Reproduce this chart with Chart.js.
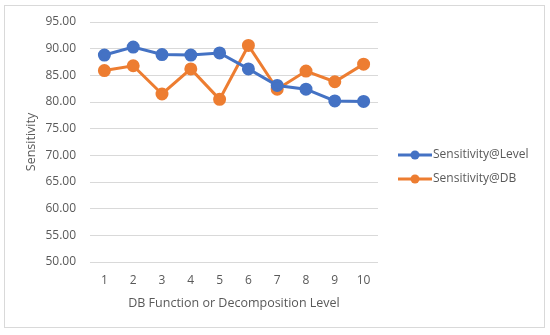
<!DOCTYPE html>
<html lang="en">
<head>
    <meta charset="UTF-8">
    <title>Sensitivity</title>
    <script src="https://cdn.jsdelivr.net/npm/chart.js@4.4.0/dist/chart.umd.min.js"></script>
    <style>
        body { margin: 0; background: #fff; }
    </style>
</head>
<body>
    <canvas id="chart" width="550" height="335"></canvas>

    <script>
        // datos
        const levels = ['1', '2', '3', '4', '5', '6', '7', '8', '9', '10'];
        const sensLevel = [88.8, 90.3, 88.9, 88.8, 89.2, 86.2, 83.1, 82.4, 80.2, 80.1];
        const sensDB = [85.9, 86.8, 81.5, 86.2, 80.5, 90.6, 82.4, 85.8, 83.8, 87.1];
        const yTicks = [50, 55, 60, 65, 70, 75, 80, 85, 90, 95];

        const textColor = '#595959';
        const fontFamily = '"Open Sans", "DejaVu Sans", sans-serif';

        // borde y fondo del grafico
        const frame = {
            id: 'frame',
            beforeDraw(chart) {
                const c = chart.ctx;
                c.save();
                c.fillStyle = '#fff';
                c.fillRect(0, 0, chart.width, chart.height);
                c.strokeStyle = '#d9d9d9';
                c.lineWidth = 1;
                c.strokeRect(4.5, 5.5, 540, 322);
                c.restore();
            }
        };

        // leyenda estilo excel: linea con punto
        const sideLegend = {
            id: 'sideLegend',
            afterDraw(chart) {
                const c = chart.ctx;
                const rows = [155, 179];
                c.save();
                chart.data.datasets.forEach((ds, i) => {
                    const y = rows[i];
                    c.strokeStyle = ds.borderColor;
                    c.lineWidth = 3;
                    c.beginPath();
                    c.moveTo(398, y);
                    c.lineTo(432, y);
                    c.stroke();
                    c.fillStyle = ds.borderColor;
                    c.beginPath();
                    c.arc(415, y, 4.5, 0, Math.PI * 2);
                    c.fill();
                    c.fillStyle = textColor;
                    c.font = '12px ' + fontFamily;
                    c.textBaseline = 'middle';
                    c.textAlign = 'left';
                    c.fillText(ds.label, 433, y);
                });
                c.restore();
            }
        };

        const ctx = document.getElementById('chart').getContext('2d');
        const chart = new Chart(ctx, {
            type: 'line',
            data: {
                labels: levels,
                datasets: [{
                    label: 'Sensitivity@Level',
                    data: sensLevel,
                    borderColor: '#4472C4',
                    backgroundColor: '#4472C4',
                    borderWidth: 3,
                    pointRadius: 5,
                    pointHoverRadius: 5,
                    fill: false
                },
                {
                    label: 'Sensitivity@DB',
                    data: sensDB,
                    borderColor: '#ED7D31',
                    backgroundColor: '#ED7D31',
                    borderWidth: 3,
                    pointRadius: 5,
                    pointHoverRadius: 5,
                    fill: false
                }]
            },
            options: {
                responsive: false,
                animation: false,
                layout: {
                    padding: { left: 20, top: 22, right: 172, bottom: 24 }
                },
                plugins: {
                    legend: { display: false },
                    tooltip: { enabled: false }
                },
                scales: {
                    x: {
                        offset: true,
                        grid: { display: false },
                        border: { display: false },
                        ticks: {
                            color: textColor,
                            font: { family: fontFamily, size: 12 },
                            padding: 3
                        },
                        title: {
                            display: true,
                            text: 'DB Function or Decomposition Level',
                            color: textColor,
                            font: { family: fontFamily, size: 12.5 },
                            padding: { top: 2, bottom: 0 }
                        },
                        afterFit: (scale) => { scale.height = 49; }
                    },
                    y: {
                        min: 50,
                        max: 95,
                        afterBuildTicks: (scale) => {
                            scale.ticks = yTicks.map(v => ({ value: v }));
                        },
                        grid: { color: '#d9d9d9', lineWidth: 1, drawTicks: false },
                        border: { display: false },
                        ticks: {
                            color: textColor,
                            font: { family: fontFamily, size: 12 },
                            padding: 14,
                            callback: (v) => Number(v).toFixed(2)
                        },
                        title: {
                            display: true,
                            text: 'Sensitivity',
                            color: textColor,
                            font: { family: fontFamily, size: 12.5 },
                            padding: { top: 4, bottom: 4 }
                        },
                        afterFit: (scale) => { scale.width = 70; }
                    }
                }
            },
            plugins: [frame, sideLegend]
        });
    </script>
</body>
</html>
